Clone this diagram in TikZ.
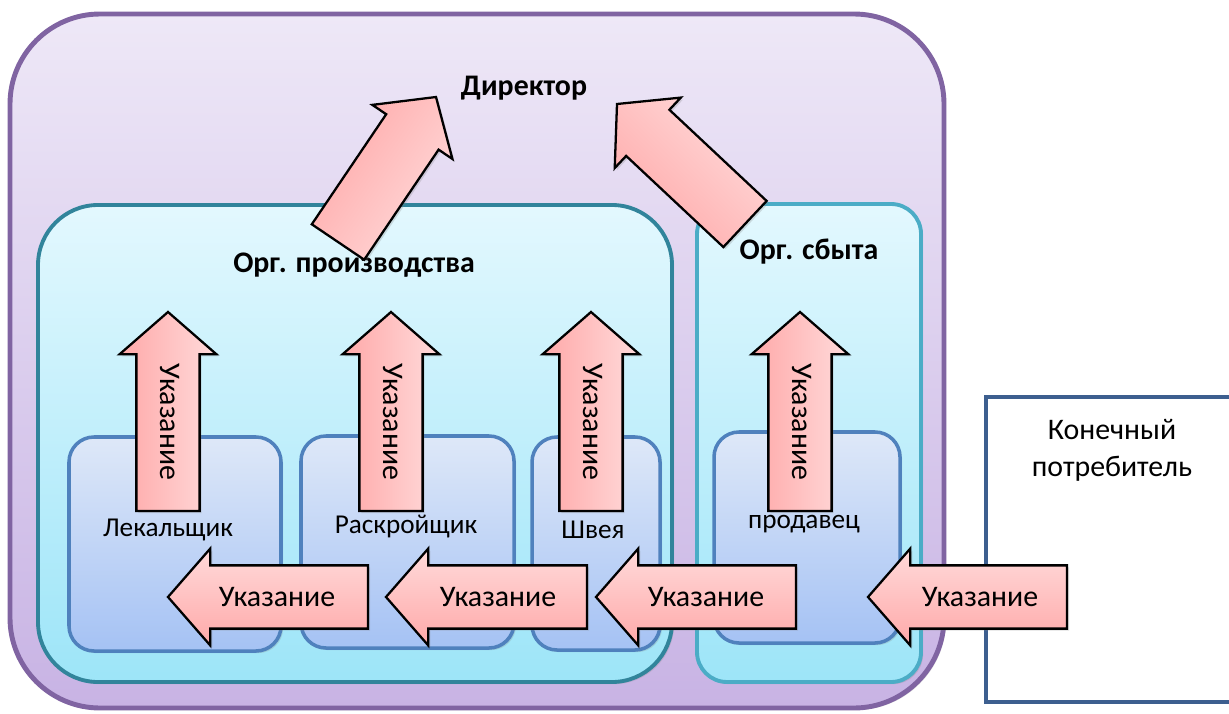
\documentclass[tikz,border=0pt]{standalone}
\usepackage{fontspec}
\setmainfont{Carlito}
\usetikzlibrary{calc,fit,shadows,positioning}

\definecolor{orgline}{HTML}{8064A2}
\definecolor{orgtop}{HTML}{EEE8F7}
\definecolor{orgbot}{HTML}{C8B3E4}
\definecolor{deptline}{HTML}{31849B}
\definecolor{saleline}{HTML}{4BACC6}
\definecolor{depttop}{HTML}{E3F8FE}
\definecolor{deptbot}{HTML}{9DE5F8}
\definecolor{workline}{HTML}{4F81BD}
\definecolor{worktop}{HTML}{DEE8F8}
\definecolor{workbot}{HTML}{A5C2F4}
\definecolor{custline}{HTML}{3D5F8F}
\definecolor{arrlight}{HTML}{FFDADA}
\definecolor{arrdark}{HTML}{FFA9A9}

\tikzset{
  softshadow/.style={drop shadow={shadow xshift=1.2pt, shadow yshift=-1.2pt, opacity=0.25}},
  orgbox/.style={draw=orgline, line width=2.8pt, rounded corners=1.8cm, top color=orgtop, bottom color=orgbot, inner sep=0pt, softshadow},
  deptbox/.style={draw=#1, line width=2.2pt, top color=depttop, bottom color=deptbot, inner sep=0pt, softshadow},
  workbox/.style={draw=workline, line width=2pt, rounded corners=0.5cm, top color=worktop, bottom color=workbot, inner sep=0pt, softshadow},
  custbox/.style={draw=custline, line width=1.8pt, fill=white, inner sep=0pt, softshadow},
  title/.style={font=\bfseries\fontsize{17}{20}\selectfont},
  worker/.style={font=\fontsize{15.5}{18}\selectfont},
  order/.style={font=\fontsize{17}{20}\selectfont},
  blockarrow/.style={draw=black, line width=1.3pt, line join=miter, top color=arrlight, bottom color=arrdark, softshadow,
    to path={let \p1=(\tikztostart), \p2=(\tikztotarget), \n1={atan2(\y2-\y1,\x2-\x1)} in
      (\p2) -- ($(\p2)+(\n1+180:24pt)+(\n1+90:27.5pt)$) -- ($(\p2)+(\n1+180:24pt)+(\n1+90:18pt)$)
      -- ($(\p1)+(\n1+90:18pt)$) -- ($(\p1)+(\n1-90:18pt)$)
      -- ($(\p2)+(\n1+180:24pt)+(\n1-90:18pt)$) -- ($(\p2)+(\n1+180:24pt)+(\n1-90:27.5pt)$) -- cycle}},
}

\begin{document}
\begin{tikzpicture}[x=0.02cm, y=-0.02cm]
	\useasboundingbox (0,0) rectangle (1229,713);
	% containers
	\node[orgbox, fit={(10,14) (944,708)}] (firm) {};
	\node[deptbox=deptline, rounded corners=1.2cm, fit={(38,205) (672,682)}] (prod) {};
	\node[deptbox=saleline, rounded corners=0.6cm, fit={(697,204) (921,682)}] (sale) {};
	\node[workbox, fit={(69,437) (281,651)}] (cutterbox) {};
	\node[workbox, fit={(301,436) (514,648)}] (tailorbox) {};
	\node[workbox, fit={(532,437) (660,650)}] (sewerbox) {};
	\node[workbox, fit={(714,432) (900,643)}] (sellerbox) {};
	\node[custbox, fit={(986,397) (1240,702)}] (custbox) {};
	% labels
	\node[title] (director) at (524,88){Директор};
	\node[title] (prodlabel) at (354,265){Орг. производства};
	\node[title] (salelabel) at (809,252){Орг. сбыта};
	\node[worker] (cutter) at (168,530){Лекальщик};
	\node[worker] (tailor) at (406,527){Раскройщик};
	\node[worker] (sewer) at (593,530){Швея};
	\node[worker] (seller) at (804,524){продавец};
	\node[order] (customer) at (1112,430){Конечный};
	\node[order, below=2pt of customer] (customer2){потребитель};
	% arrow ends
	\coordinate (upA0) at (168,511); \coordinate (upA1) at (168,312);%0
	\coordinate (upB0) at (391,511); \coordinate (upB1) at (391,312);%1
	\coordinate (upC0) at (591,511); \coordinate (upC1) at (591,312);%2
	\coordinate (upD0) at (800,511); \coordinate (upD1) at (800,312);%3
	\coordinate (dirL0) at (338,242); \coordinate (dirL1) at (436,97);
	\coordinate (dirR0) at (745,224); \coordinate (dirR1) at (617,104);
	\coordinate (lfA0) at (368,597); \coordinate (lfA1) at (168,597);%0
	\coordinate (lfB0) at (587,597); \coordinate (lfB1) at (386,597);%1
	\coordinate (lfC0) at (796,597); \coordinate (lfC1) at (596,597);%2
	\coordinate (lfD0) at (1067,597); \coordinate (lfD1) at (868,597);%3
	% arrows
	\draw[blockarrow, shading angle=-90] (upA0) to (upA1);
	\draw[blockarrow, shading angle=-90] (upB0) to (upB1);
	\draw[blockarrow, shading angle=-90] (upC0) to (upC1);
	\draw[blockarrow, shading angle=-90] (upD0) to (upD1);
	\draw[blockarrow, shading angle=-124] (dirL0) to (dirL1);
	\draw[blockarrow, shading angle=-44] (dirR0) to (dirR1);
	\draw[blockarrow] (lfA0) to (lfA1);
	\draw[blockarrow] (lfB0) to (lfB1);
	\draw[blockarrow] (lfC0) to (lfC1);
	\draw[blockarrow] (lfD0) to (lfD1);
	% arrow texts
	\node[order, rotate=-90] (upAtext) at (170,422){Указание};
	\node[order, rotate=-90] (upBtext) at (393,422){Указание};
	\node[order, rotate=-90] (upCtext) at (593,422){Указание};
	\node[order, rotate=-90] (upDtext) at (802,422){Указание};
	\node[order] (lfAtext) at (277,597){Указание};
	\node[order] (lfBtext) at (498,597){Указание};
	\node[order] (lfCtext) at (706,597){Указание};
	\node[order] (lfDtext) at (980,597){Указание};
\end{tikzpicture}
\end{document}
